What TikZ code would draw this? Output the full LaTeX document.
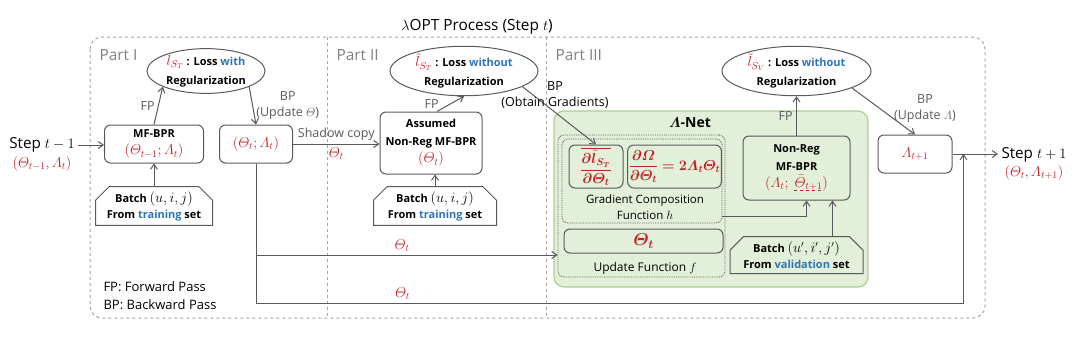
\documentclass[tikz,border=0pt]{standalone}
\usepackage{amsmath}
\usepackage{bm}
\usepackage{fontspec}
\setmainfont{Open Sans}
\usepackage{tikz}
\usetikzlibrary{arrows.meta, positioning, shapes.geometric, shapes.misc, calc}
\definecolor{colRed}{RGB}{192,32,38}
\definecolor{colBlue}{RGB}{46,117,182}
\definecolor{colGray}{RGB}{165,165,165}
\definecolor{colPart}{RGB}{128,128,128}
\definecolor{colEdge}{RGB}{89,89,89}
\definecolor{colNetFill}{RGB}{226,239,217}
\definecolor{colNetEdge}{RGB}{169,209,142}
\newcommand{\redval}[1]{{\fontsize{14.5}{16}\selectfont\color{colRed}$#1$}}
\newcommand{\batchvar}[1]{{\fontsize{13.5}{16}\selectfont\mdseries$#1$}}

\begin{document}
\begin{tikzpicture}[
  x=1pt, y=-1pt,
  font=\fontsize{12.5}{16}\selectfont,
  box/.style={rectangle, draw=colEdge, rounded corners=6pt, line width=1pt,
              align=center, inner sep=1pt, font=\fontsize{11}{17.5}\selectfont\bfseries},
  lossbox/.style={ellipse, draw=colEdge, line width=1pt, align=center,
              inner sep=0pt, font=\fontsize{11}{19}\selectfont\bfseries},
  batch/.style={chamfered rectangle, chamfered rectangle corners={north west, north east},
              chamfered rectangle xsep=10pt, draw=colEdge, line width=1pt, align=center,
              inner sep=1pt, font=\fontsize{11}{16}\selectfont\bfseries},
  dotbox/.style={rectangle, draw=colEdge, densely dotted, rounded corners=6pt, line width=0.8pt},
  arr/.style={-{Straight Barb[length=5pt,width=7pt]}, line width=1pt, colEdge},
  part/.style={text=colPart, font=\fontsize{15.4}{18}\selectfont, anchor=west},
  stepnote/.style={font=\fontsize{15.2}{18}\selectfont},
]
\useasboundingbox (0,0) rectangle (1080,341);

% frame and parts
\draw[colGray, dashed, line width=1pt, rounded corners=12pt] (90,37) rectangle (985,318);
\draw[colGray, dashed, line width=1pt] (327,37) -- (327,318);
\draw[colGray, dashed, line width=1pt] (546,37) -- (546,318);
\node[font=\fontsize{15.4}{18}\selectfont] (title) at (477,27) {$\lambda$OPT Process (Step $t$)};
\node[part] (partI) at (96,55) {Part I};
\node[part] (partII) at (333,55) {Part II};
\node[part] (partIII) at (552,55) {Part III};

% Lambda-Net container
\node[rectangle, draw=colNetEdge, fill=colNetFill, line width=1.2pt, rounded corners=10pt,
      minimum width=314, minimum height=176] (anet) at (711,199) {};
\node[font=\fontsize{14}{17}\selectfont] (anetname) at (690,123) {$\bm{\varLambda}$\textbf{-Net}};

% Part I
\node[stepnote] (stepin) at (42,145) {Step $t-1$};
\node (stepinval) at (42,164) {\redval{(\varTheta_{t-1},\varLambda_t)}};
\node[box, minimum width=99, minimum height=38] (mfbpr) at (154,144)
  {MF-BPR\\\redval{(\varTheta_{t-1};\varLambda_t)}};
\node[batch, minimum width=117, minimum height=36] (batchA) at (154,206)
  {Batch \batchvar{(u,i,j)}\\From {\color{colBlue}training} set};
\node[lossbox, minimum width=118, minimum height=42] (lossA) at (206,71)
  {\redval{l_{S_T}} : Loss {\color{colBlue}with}\\Regularization};
\node[box, minimum width=73, minimum height=38, font=\fontsize{15}{17}\selectfont]
  (thetaA) at (256,144) {\redval{(\varTheta_t;\varLambda_t)}};

% Part II
\node[box, minimum width=102, minimum height=62] (assumed) at (431,143)
  {Assumed\\Non-Reg MF-BPR\\\redval{(\varTheta_t)}};
\node[batch, minimum width=123, minimum height=36] (batchB) at (435,206)
  {Batch \batchvar{(u,i,j)}\\From {\color{colBlue}training} set};
\node[lossbox, minimum width=148, minimum height=42] (lossB) at (464,71)
  {\redval{\tilde{l}_{S_T}} : Loss {\color{colBlue}without}\\Regularization};

% Part III
\node[dotbox, minimum width=167, minimum height=142] (updf) at (641.5,206) {};
\node[dotbox, minimum width=160, minimum height=84] (gradh) at (642,181) {};
\node[box, minimum width=54, minimum height=43, text=colRed, font=\fontsize{14}{16}\selectfont]
  (fracA) at (596,166.5)
  {$\dfrac{\overline{\bm{\partial\tilde{l}_{S_T}}}}{\bm{\partial\varTheta_t}}$};
\node[box, minimum width=85, minimum height=43, text=colRed, font=\fontsize{14}{16}\selectfont]
  (fracB) at (674.5,166.5)
  {$\dfrac{\bm{\partial\varOmega}}{\bm{\partial\varTheta_t}}\bm{=2\varLambda_t\varTheta_t}$};
\node[align=center, font=\fontsize{11.5}{16}\selectfont] (gradhtext) at (645,207)
  {Gradient Composition\\Function $h$};
\node[box, minimum width=159, minimum height=24, text=colRed,
      font=\fontsize{17}{19}\selectfont] (thetabox) at (643.5,241) {$\bm{\varTheta_t}$};
\node[font=\fontsize{12}{16}\selectfont] (updftext) at (645,268) {Update Function $f$};
\node[box, minimum width=107, minimum height=64] (nonreg) at (796.5,168)
  {Non-Reg\\MF-BPR\\\redval{(\varLambda_t;\ \bar{\varTheta}_{t+1})}};
\draw[colRed, dashed, line width=0.8pt] ([xshift=-3pt,yshift=10pt]nonreg.south)
  -- ([xshift=26pt,yshift=10pt]nonreg.south);
\node[batch, minimum width=133, minimum height=37] (batchC) at (796.5,255)
  {Batch \batchvar{(u',i',j')}\\From {\color{colBlue}validation} set};
\node[lossbox, minimum width=149, minimum height=42] (lossC) at (796.5,71)
  {\redval{\tilde{l}_{S_V}} : Loss {\color{colBlue}without}\\Regularization};
\node[box, minimum width=74, minimum height=38] (lamnext) at (915,154) {\redval{\varLambda_{t+1}}};
\node[stepnote] (stepout) at (1034,155) {Step $t+1$};
\node (stepoutval) at (1034,173) {\redval{(\varTheta_t,\varLambda_{t+1})}};
\coordinate (merge) at ([xshift=11pt]lamnext.east);

% legend
\node[anchor=west, font=\fontsize{13}{16}\selectfont] (legfp) at (100,287) {FP: Forward Pass};
\node[anchor=west, font=\fontsize{13}{16}\selectfont] (legbp) at (100,305) {BP: Backward Pass};

% connectors
\draw[arr] (stepin.east) -- (stepin.east -| mfbpr.west);
\draw[arr] (batchA.north) -- (mfbpr.south);
\draw[arr] (mfbpr.north) -- node[left] {FP} (lossA.200);
\draw[arr] (lossA.-20) -- node[right, align=center] {BP\\(Update $\varTheta$)} (thetaA.north);
\draw[arr] (thetaA.east) -- node[above] {Shadow copy} node[below] {\redval{\varTheta_t}}
  (thetaA.east -| assumed.west);
\draw[arr] (batchB.north) -- (batchB.north |- assumed.south);
\draw[arr] ([xshift=6pt]assumed.north) -- node[left=8pt] {FP} (lossB.south);
\draw[arr] (lossB.-15) -- (fracA.north);
\node[align=center] (bpgrad) at (555,95) {BP\\(Obtain Gradients)};
\draw[arr] (thetaA.south) |- node[above, pos=0.742] {\redval{\varTheta_t}}
  ([yshift=-49pt]updf.west);
\draw[arr] (thetaA.south) -- ++(0,140) coordinate (low)
  -- node[above, pos=0.207] {\redval{\varTheta_t}} (low -| merge) -- (merge);
\draw[arr] ([yshift=-35pt]gradh.east) -| ([xshift=10pt]nonreg.south);
\draw[arr] ([xshift=36pt]batchC.north) -- ([xshift=36pt]batchC.north |- nonreg.south);
\draw[arr] (nonreg.north) -- node[left] {FP} (lossC.south);
\draw[arr] (lossC.-17) -- node[pos=0.45, right=10pt, align=center] {BP\\(Update $\varLambda$)} (lamnext.north);
\draw[arr] (lamnext.east) -- (lamnext.east -| stepout.west);

\end{tikzpicture}
\end{document}
